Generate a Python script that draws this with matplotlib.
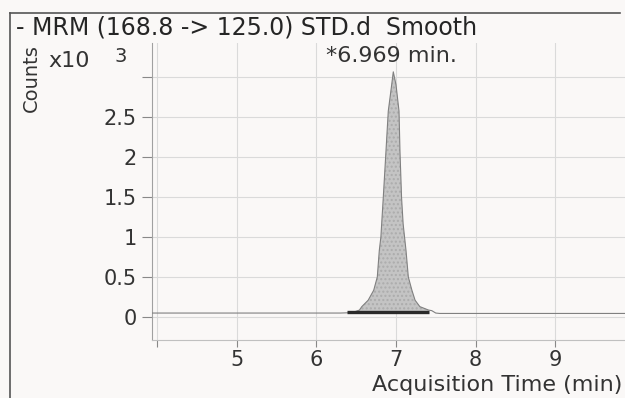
import numpy as np
import matplotlib
matplotlib.use('Agg')
import matplotlib.pyplot as plt

plt.rcParams['font.family'] = ['DejaVu Sans']

# chromatogram trace (time in min, counts x10^3)
t = [3.93, 4.5, 5.0, 5.5, 6.0, 6.3, 6.45, 6.54, 6.57, 6.65, 6.72, 6.765,
     6.79, 6.81, 6.84, 6.874, 6.903, 6.946, 6.966, 7.0, 7.038, 7.05, 7.07,
     7.09, 7.126, 7.155, 7.2, 7.24, 7.30, 7.41, 7.45, 7.5, 7.55, 8.0, 8.5,
     9.0, 9.5, 9.88]
counts = [0.05, 0.05, 0.05, 0.05, 0.05, 0.05, 0.055, 0.087, 0.13, 0.21,
          0.335, 0.5, 0.83, 1.0, 1.49, 2.07, 2.57, 2.90, 3.06, 2.90, 2.57,
          2.07, 1.49, 1.16, 0.83, 0.5, 0.335, 0.21, 0.13, 0.087, 0.08, 0.05,
          0.045, 0.045, 0.045, 0.045, 0.045, 0.045]

# integration baseline
base_t = [6.38, 7.415]
base_y = [0.06, 0.06]

rt_label = '*6.969 min.'

bg = '#faf8f7'
fig = plt.figure(figsize=(6.25, 3.98), dpi=100)
fig.patch.set_facecolor(bg)
ax = fig.add_axes([0.243, 0.146, 0.757, 0.746])
ax.set_facecolor(bg)

t = np.array(t)
counts = np.array(counts)
ax.plot(t, counts, color='#808080', lw=0.8, zorder=3)
mask = (t >= base_t[0]) & (t <= base_t[1])
ax.fill_between(t[mask], base_y[0], counts[mask], color='#c4c4c4',
                zorder=2, lw=0, hatch='....', edgecolor='#acacac')
ax.plot(base_t, base_y, color='#2a2a2a', lw=2.4, zorder=4,
        solid_capstyle='butt')

ax.set_xlim(3.93, 9.88)
ax.set_ylim(-0.285, 3.42)
ax.set_xticks([4, 5, 6, 7, 8, 9])
ax.set_xticklabels(['', '5', '6', '7', '8', '9'])
ax.set_yticks([0, 0.5, 1, 1.5, 2, 2.5, 3])
ax.set_yticklabels(['0', '0.5', '1', '1.5', '2', '2.5', ''])
ax.grid(True, color='#dadada', lw=0.8)
ax.set_axisbelow(True)

for s in ['top', 'right']:
    ax.spines[s].set_visible(False)
ax.spines['left'].set_color('#a0a0a0')
ax.spines['bottom'].set_color('#c0c0c0')
ax.tick_params(axis='both', colors='#888888', labelcolor='#333333',
               labelsize=15, width=0.8)
ax.tick_params(axis='x', length=5, pad=2)
ax.tick_params(axis='y', length=7, pad=4)

# x axis title, right aligned under the axis
fig.text(0.995, 0.033, 'Acquisition Time (min)', fontsize=16, color='#333333',
         ha='right', va='center')

# outer frame (left and top lines of the printed box)
fig.add_artist(plt.Line2D([0.016, 0.016], [0.0, 0.967], color='#555555',
                          lw=1.2))
fig.add_artist(plt.Line2D([0.016, 0.992], [0.967, 0.967], color='#555555',
                          lw=1.2))

fig.text(0.026, 0.931, '- MRM (168.8 -> 125.0) STD.d  Smooth', fontsize=17,
         color='#252525', va='center', ha='left')
fig.text(0.051, 0.804, 'Counts', rotation=90, fontsize=14, color='#333333',
         va='center', ha='center')
fig.text(0.078, 0.847, 'x10', fontsize=16, color='#333333', va='center')
fig.text(0.184, 0.857, '3', fontsize=14, color='#333333', va='center')
fig.text(0.627, 0.859, rt_label, fontsize=16, color='#333333',
         ha='center', va='center')

fig.savefig('out.png', dpi=100, facecolor=fig.get_facecolor())
